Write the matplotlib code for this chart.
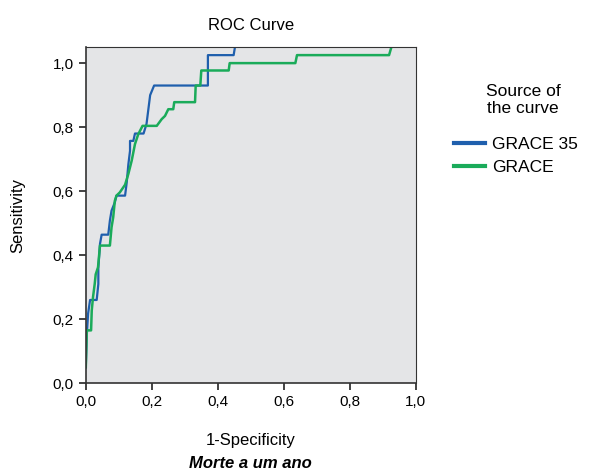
import matplotlib
matplotlib.use("Agg")
import matplotlib.pyplot as plt

# ROC curve points
grace35_x = [0, 0.003, 0.007, 0.013, 0.033, 0.038, 0.038, 0.043, 0.048, 0.068, 0.073, 0.078,
             0.088, 0.093, 0.119, 0.124, 0.129, 0.134, 0.134, 0.144, 0.149, 0.175, 0.184,
             0.195, 0.207, 0.37, 0.37, 0.448, 0.452]
grace35_y = [0.05, 0.15, 0.218, 0.26, 0.26, 0.31, 0.36, 0.435, 0.464, 0.464, 0.508, 0.539,
             0.565, 0.586, 0.586, 0.627, 0.684, 0.726, 0.757, 0.757, 0.78, 0.78, 0.81,
             0.90, 0.93, 0.93, 1.025, 1.025, 1.05]

grace_x = [0, 0.003, 0.016, 0.018, 0.022, 0.027, 0.03, 0.037, 0.043, 0.073, 0.078, 0.083,
           0.088, 0.093, 0.103, 0.119, 0.129, 0.139, 0.149, 0.159, 0.172, 0.215, 0.23,
           0.24, 0.25, 0.265, 0.268, 0.331, 0.333, 0.347, 0.35, 0.433, 0.436, 0.635,
           0.64, 0.919, 0.926]
grace_y = [0.05, 0.165, 0.165, 0.227, 0.27, 0.31, 0.34, 0.362, 0.43, 0.43, 0.487, 0.518,
           0.57, 0.586, 0.596, 0.62, 0.654, 0.695, 0.747, 0.778, 0.804, 0.804, 0.825,
           0.835, 0.856, 0.856, 0.878, 0.878, 0.93, 0.93, 0.977, 0.977, 1.0, 1.0,
           1.025, 1.025, 1.05]

ticks = [0.0, 0.2, 0.4, 0.6, 0.8, 1.0]
tick_labels = ["0,0", "0,2", "0,4", "0,6", "0,8", "1,0"]

plt.rcParams['font.family'] = ['Liberation Sans', 'DejaVu Sans']

fig = plt.figure(figsize=(6, 4.76), dpi=100)
ax = fig.add_axes([0.143, 0.195, 0.55, 0.706])
ax.set_facecolor('#e4e5e7')

ax.plot(grace35_x, grace35_y, color='#1f5fad', lw=1.6, label='GRACE 35')
ax.plot(grace_x, grace_y, color='#1aab5a', lw=1.8, label='GRACE')

ax.set_xlim(0, 1.0)
ax.set_ylim(0, 1.05)
ax.set_xticks(ticks)
ax.set_xticklabels(tick_labels, fontsize=11)
ax.set_yticks(ticks)
ax.set_yticklabels(tick_labels, fontsize=11)
ax.tick_params(direction='out', length=5, width=1.2, color='#222222')
for s in ax.spines.values():
    s.set_color('#333333')
ax.spines['left'].set_linewidth(1.2)
ax.spines['bottom'].set_linewidth(1.2)

ax.set_title('ROC Curve', fontsize=12, pad=12)
ax.set_xlabel('1-Specificity', fontsize=12, labelpad=17)
ax.set_ylabel('Sensitivity', fontsize=12, labelpad=20)
fig.text(0.418, 0.027, 'Morte a um ano', fontsize=12, fontweight='bold',
         style='italic', ha='center', va='center')

# legend title drawn separately so it can be centred
fig.text(0.872, 0.79, 'Source of\nthe curve', fontsize=12.5, ha='center',
         va='center', linespacing=1.1)
leg = ax.legend(loc='upper left', bbox_to_anchor=(0.757, 0.712),
                bbox_transform=fig.transFigure, frameon=False, fontsize=12.5,
                borderpad=0, borderaxespad=0,
                handlelength=1.8, handletextpad=0.4, labelspacing=0.45)
for line in leg.get_lines():
    line.set_linewidth(3)

fig.savefig('out.png', dpi=100)
